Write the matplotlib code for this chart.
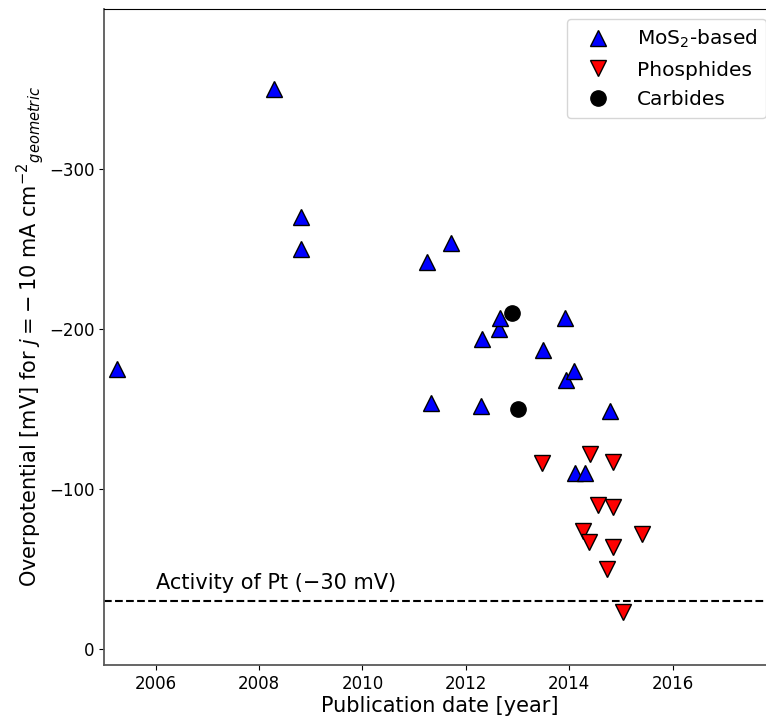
import matplotlib
matplotlib.use("Agg")
import matplotlib.pyplot as plt

# Overpotential needed for j = -10 mA/cm^2, by publication date
mos2_year = [2005.26, 2008.28, 2008.82, 2008.82, 2011.25, 2011.71, 2011.32,
             2012.31, 2012.29, 2012.64, 2012.67, 2013.50, 2013.91, 2013.94,
             2014.09, 2014.79, 2014.11, 2014.30]
mos2_eta = [-175, -350, -270, -250, -242, -254, -154,
            -194, -152, -200, -207, -187, -207, -168,
            -174, -149, -110, -110]

phos_year = [2013.47, 2014.40, 2014.85, 2014.56, 2014.85, 2014.27,
             2015.40, 2014.38, 2014.85, 2014.74, 2015.04]
phos_eta = [-116, -122, -117, -90, -89, -74, -72, -67, -64, -50, -23]

carb_year = [2012.90, 2013.01]
carb_eta = [-210, -150]

pt_eta = -30
xticks = [2006, 2008, 2010, 2012, 2014, 2016]
yticks = [0, -100, -200, -300]

fig = plt.figure(figsize=(7.66, 7.18), dpi=100)
ax = fig.add_axes([104 / 766, 53 / 718, 672 / 766, 656 / 718])

ax.plot(mos2_year, mos2_eta, ls='none', marker='^', ms=11, mfc='#0000ff',
        mec='black', mew=1.0, label=r'MoS$_2$-based')
ax.plot(phos_year, phos_eta, ls='none', marker='v', ms=11, mfc='#ff0000',
        mec='black', mew=1.0, label='Phosphides')
ax.plot(carb_year, carb_eta, ls='none', marker='o', ms=11, mfc='black',
        mec='black', mew=1.0, label='Carbides')

ax.axhline(pt_eta, color='black', ls='--', lw=1.5)
ax.text(2006.0, pt_eta - 5, 'Activity of Pt (\u221230 mV)', fontsize=15,
        ha='left', va='bottom')

ax.set_xlim(2005, 2018)
ax.set_ylim(10, -400)
ax.set_xticks(xticks)
ax.set_yticks(yticks)
ax.tick_params(labelsize=12)

ax.set_xlabel('Publication date [year]', fontsize=15, labelpad=2)
ax.set_ylabel(r'Overpotential [mV] for $j = -\:10$ mA cm$^{-2}$$_{geometric}$',
              fontsize=15, labelpad=2)

for side in ('left', 'bottom'):
    ax.spines[side].set_color('0.35')
    ax.spines[side].set_linewidth(1.3)

ax.legend(loc='upper right', fontsize=14.5, numpoints=1,
          handlelength=2.2, handletextpad=0.8, borderpad=0.45)

fig.savefig('out.png', dpi=100)
